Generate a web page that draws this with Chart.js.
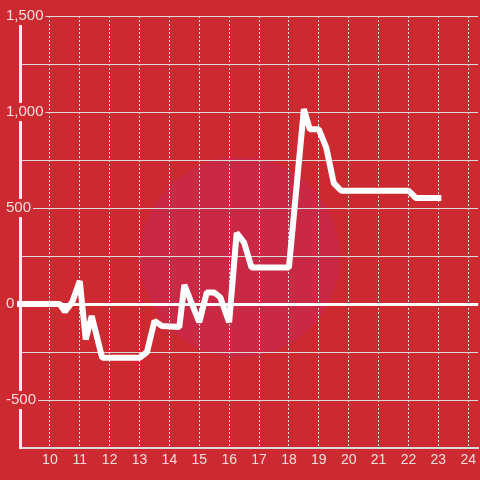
<!DOCTYPE html>
<html>
<head>
<meta charset="utf-8">
<script src="https://cdn.jsdelivr.net/npm/chart.js@4.4.0/dist/chart.umd.min.js"></script>
<style>
  html, body { margin: 0; padding: 0; background: #cc2a30; }
  #wrap { width: 480px; height: 480px; }
</style>
</head>
<body>
<div id="wrap"><canvas id="myChart"></canvas></div>
<script>
// hour of day / value
const hours  = [9, 10.33, 10.5, 10.75, 11, 11.2, 11.4, 11.75, 13, 13.25, 13.5, 13.75, 14.33, 14.5, 15, 15.25, 15.5, 15.7, 16, 16.25, 16.5, 16.75, 18, 18.5, 18.7, 19, 19.25, 19.5, 19.75, 22, 22.25, 23]
const values = [0, 0, -40, 10, 120, -185, -62, -280, -280, -250, -88, -115, -120, 100, -95, 60, 60, 35, -95, 370, 320, 190, 190, 1015, 910, 910, 815, 630, 590, 590, 552, 552]

const xTickLabels = [10, 11, 12, 13, 14, 15, 16, 17, 18, 19, 20, 21, 22, 23, 24]
const yTickLabels = [-500, 0, 500, 1000, 1500]

const bg = '#cc2a30'
const labelColor = '#f5dede'

const background = {
  id: 'background',
  beforeDraw(chart) {
    const c = chart.ctx
    c.save()
    c.fillStyle = bg
    c.fillRect(0, 0, chart.width, chart.height)
    // faint watermark disc
    c.fillStyle = 'rgba(200, 40, 90, 0.5)'
    c.beginPath()
    c.arc(240, 257, 100, 0, Math.PI * 2)
    c.fill()
    c.restore()
  }
}

const points = hours.map((h, i) => ({ x: h, y: values[i] }))
const showY = v => yTickLabels.includes(v)

const ctx = document.getElementById('myChart').getContext('2d')
const chart = new Chart(ctx, {
  type: 'line',
  data: {
    datasets: [{
      data: points,
      borderColor: '#ffffff',
      borderWidth: 6,
      borderJoinStyle: 'bevel',
      borderCapStyle: 'square',
      tension: 0,
      pointRadius: 0,
      clip: false
    }]
  },
  plugins: [background],
  options: {
    responsive: true,
    maintainAspectRatio: false,
    animation: false,
    layout: { padding: { top: 16, left: 0, right: 0, bottom: 0 } },
    plugins: {
      legend: { display: false },
      tooltip: { enabled: false }
    },
    scales: {
      x: {
        type: 'linear',
        min: 9,
        max: 24.333,
        afterFit: s => { s.height = 32 },
        grid: { color: '#ececec', lineWidth: 1, drawTicks: false },
        border: { display: true, color: '#d9d9d9', width: 2, dash: [2, 2] },
        ticks: {
          stepSize: 1,
          includeBounds: false,
          padding: 4,
          color: labelColor,
          font: { size: 14 },
          callback: v => xTickLabels.includes(v) ? String(v) : ''
        }
      },
      y: {
        min: -750,
        max: 1500,
        afterFit: s => { s.width = 20 },
        grid: {
          drawTicks: false,
          color: c => c.tick && c.tick.value === 0 ? '#ffffff' : '#d9d9d9',
          lineWidth: c => c.tick && c.tick.value === 0 ? 3 : 1
        },
        border: { display: true, color: '#f0f0f0', width: 3 },
        ticks: {
          stepSize: 250,
          mirror: true,
          crossAlign: 'near',
          padding: -14,
          color: labelColor,
          font: { size: 15 },
          showLabelBackdrop: c => showY(c.tick.value),
          backdropColor: bg,
          backdropPadding: { left: 1, right: 2, top: 0, bottom: 0 },
          callback: v => showY(v) ? Number(v).toLocaleString('en-US') : ''
        }
      }
    }
  }
})
</script>
</body>
</html>
